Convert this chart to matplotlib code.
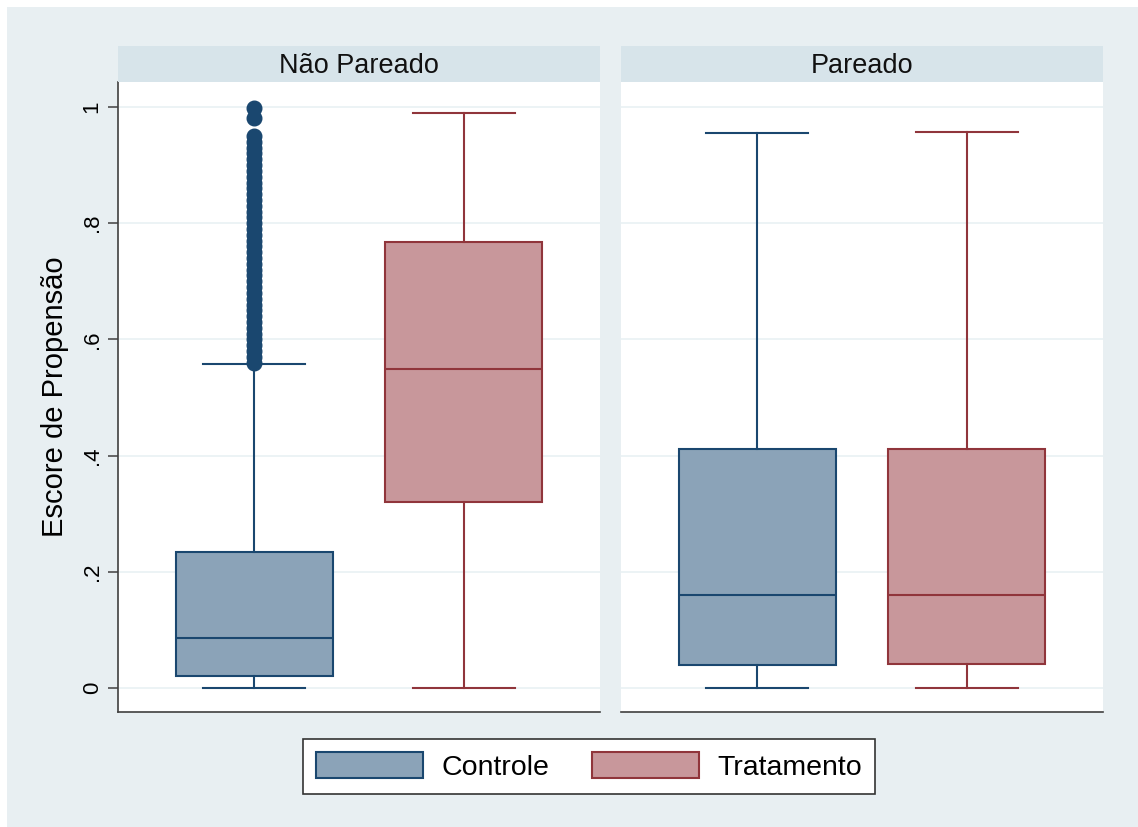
import matplotlib
matplotlib.use('Agg')
import matplotlib.pyplot as plt
from matplotlib.patches import Patch, Rectangle

plt.rcParams['font.family'] = ['Liberation Sans', 'DejaVu Sans']

# Propensity score summaries: (whislo, q1, med, q3, whishi) per group
panels = ['Não Pareado', 'Pareado']
groups = ['Controle', 'Tratamento']

unmatched_control = [0.0, 0.021, 0.086, 0.234, 0.558]
unmatched_treated = [0.0, 0.320, 0.549, 0.768, 0.990]
matched_control = [0.0, 0.040, 0.160, 0.411, 0.955]
matched_treated = [0.0, 0.041, 0.160, 0.411, 0.957]

# Control observations above the upper adjacent value (unmatched sample)
unmatched_control_outliers = [
    0.56, 0.57, 0.58, 0.59, 0.60, 0.61, 0.62, 0.63, 0.64, 0.65,
    0.66, 0.67, 0.68, 0.69, 0.70, 0.71, 0.72, 0.73, 0.74, 0.75,
    0.76, 0.77, 0.78, 0.79, 0.80, 0.81, 0.82, 0.83, 0.84, 0.85,
    0.86, 0.87, 0.88, 0.89, 0.90, 0.91, 0.92, 0.93, 0.94, 0.95,
    0.981, 0.998,
]

yticks = [0, 0.2, 0.4, 0.6, 0.8, 1.0]
ytick_labels = ['0', '.2', '.4', '.6', '.8', '1']

NAVY = '#1a476f'
MAROON = '#90353b'
FILL_NAVY = '#8ba3b8'
FILL_MAROON = '#c8979b'
BG = '#e8eff2'
STRIP = '#d7e4ea'
GRID = '#e9f1f3'


def stats(vals, fliers=()):
    lo, q1, med, q3, hi = vals
    return dict(whislo=lo, q1=q1, med=med, q3=q3, whishi=hi, fliers=list(fliers))


fig = plt.figure(figsize=(11.38, 8.27), dpi=100, facecolor='white')
W, H = 1138, 827
fig.patches.append(Rectangle((7 / W, 0), 1 - 7 / W, 1 - 7 / H, transform=fig.transFigure,
                             facecolor=BG, edgecolor='none', zorder=-10))

panel_data = [
    [stats(unmatched_control, unmatched_control_outliers), stats(unmatched_treated)],
    [stats(matched_control), stats(matched_treated)],
]
lefts = [118, 621]
pw = 482
ax_bottom = (H - 712) / H
ax_h = 630 / H

for i, (title, data) in enumerate(zip(panels, panel_data)):
    ax = fig.add_axes([lefts[i] / W, ax_bottom, pw / W, ax_h])
    ax.set_facecolor('white')
    for spine in ['top', 'right']:
        ax.spines[spine].set_visible(False)
    ax.spines['bottom'].set_color('#404040')
    ax.spines['bottom'].set_linewidth(1.2)
    if i == 0:
        ax.spines['left'].set_color('#404040')
        ax.spines['left'].set_linewidth(1.2)
    else:
        ax.spines['left'].set_visible(False)

    for j, (st, edge, fill) in enumerate(zip(data, [NAVY, MAROON], [FILL_NAVY, FILL_MAROON])):
        ax.bxp([st], positions=[j + 1], widths=0.748, capwidths=0.49, patch_artist=True,
               boxprops=dict(facecolor=fill, edgecolor=edge, linewidth=1.5),
               medianprops=dict(color=edge, linewidth=1.5),
               whiskerprops=dict(color=edge, linewidth=1.5),
               capprops=dict(color=edge, linewidth=1.5),
               flierprops=dict(marker='o', markerfacecolor=edge, markeredgecolor=edge,
                               markersize=10.5, linestyle='none'),
               zorder=3)

    ax.set_xlim(0.352, 2.648)
    ax.set_ylim(-0.0413, 1.043)
    ax.set_xticks([])
    ax.set_yticks(yticks)
    for y in yticks:
        ax.axhline(y, color=GRID, linewidth=1.2, zorder=1)
    if i == 0:
        ax.set_yticklabels(ytick_labels, rotation=90, va='center', fontsize=16)
        ax.tick_params(axis='y', length=7, width=1.1, color='#404040', pad=4)
        ax.set_ylabel('Escore de Propensão', fontsize=21, labelpad=9)
    else:
        ax.tick_params(axis='y', length=0, labelleft=False)

    # panel header strip
    sax = fig.add_axes([lefts[i] / W, (H - 82) / H, pw / W, 36 / H])
    sax.set_facecolor(STRIP)
    sax.set_xticks([])
    sax.set_yticks([])
    for spine in sax.spines.values():
        spine.set_visible(False)
    sax.text(0.5, 0.45, title, ha='center', va='center', fontsize=19.5, color='#111111',
             transform=sax.transAxes)

handles = [Patch(facecolor=FILL_NAVY, edgecolor=NAVY, linewidth=1.5, label=groups[0]),
           Patch(facecolor=FILL_MAROON, edgecolor=MAROON, linewidth=1.5, label=groups[1])]
leg = fig.legend(handles=handles, loc='center', bbox_to_anchor=(589 / W, (H - 766.5) / H),
                 ncol=2, fontsize=20.5, frameon=True, fancybox=False, framealpha=1,
                 handlelength=3.75, handleheight=1.0, handletextpad=0.65,
                 columnspacing=1.5, borderpad=0.45, borderaxespad=0)
leg.get_frame().set_edgecolor('#333333')
leg.get_frame().set_facecolor('white')
leg.get_frame().set_linewidth(1.2)

fig.savefig('out.png', dpi=100, facecolor=fig.get_facecolor())
